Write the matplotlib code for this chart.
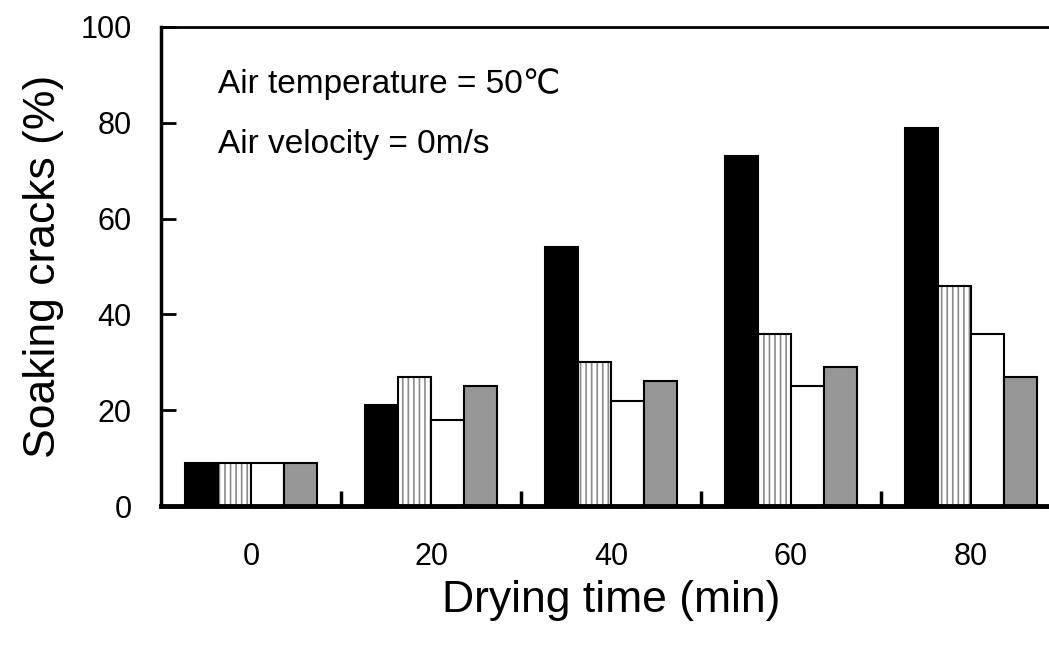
import numpy as np
import matplotlib.pyplot as plt

plt.rcParams['font.family'] = ['Liberation Sans', 'DejaVu Sans']
plt.rcParams['hatch.linewidth'] = 1.2

# drying time categories (min)
times = ['0', '20', '40', '60', '80']
# soaking cracks (%) for the four series
s_black = [9, 21, 54, 73, 79]
s_hatch = [9, 27, 30, 36, 46]
s_white = [9, 18, 22, 25, 36]
s_gray = [9, 25, 26, 29, 27]

fig = plt.figure(figsize=(10.49, 6.46), dpi=100)
ax = fig.add_axes([161 / 1049, (646 - 506) / 646, 900 / 1049, 479 / 646])

x = np.arange(len(times))
w = 0.182
ax.bar(x - 1.5 * w, s_black, w, color='black', edgecolor='black', linewidth=1.5)
ax.bar(x - 0.5 * w, s_hatch, w, color='white', edgecolor='#8a8a8a', hatch='|||', linewidth=0)
ax.bar(x - 0.5 * w, s_hatch, w, color='none', edgecolor='black', linewidth=1.5)
ax.bar(x + 0.5 * w, s_white, w, color='white', edgecolor='black', linewidth=1.5)
ax.bar(x + 1.5 * w, s_gray, w, color='#969696', edgecolor='black', linewidth=1.5)

ax.set_xlim(-0.5, 4.5)
ax.set_ylim(0, 100)
ax.set_yticks([0, 20, 40, 60, 80, 100])
ax.tick_params(axis='y', direction='in', length=11, width=2, labelsize=22, pad=21)

ax.set_xticks(x)
ax.set_xticklabels(times)
ax.set_xticks(np.arange(0.5, 4.5, 1), minor=True)
ax.tick_params(axis='x', which='major', length=0, labelsize=22, pad=26)
ax.tick_params(axis='x', which='minor', direction='in', length=11, width=2.5)

ax.spines['left'].set_linewidth(2.5)
ax.spines['bottom'].set_linewidth(3.5)
ax.spines['top'].set_linewidth(2)
ax.spines['right'].set_linewidth(2)

ax.set_ylabel('Soaking cracks (%)', fontsize=32, labelpad=12)
ax.set_xlabel('Drying time (min)', fontsize=32, labelpad=6)

ax.text(0.063, 0.88, 'Air temperature = 50℃', transform=ax.transAxes,
        fontsize=24, va='center', ha='left')
ax.text(0.063, 0.755, 'Air velocity = 0m/s', transform=ax.transAxes,
        fontsize=24, va='center', ha='left')

fig.savefig('out.png', dpi=100)
